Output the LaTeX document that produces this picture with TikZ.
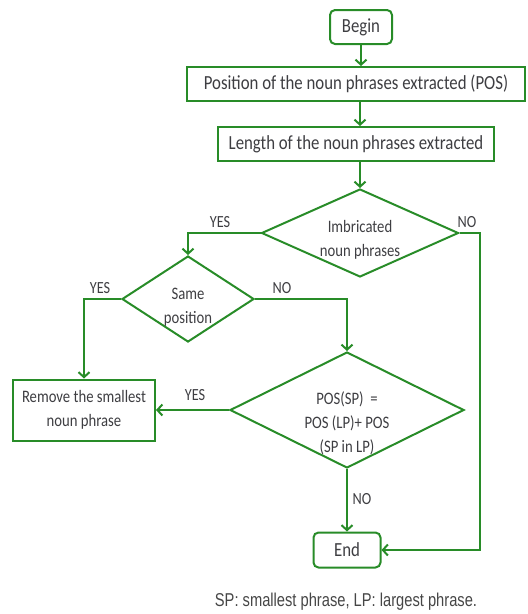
\documentclass[tikz,border=0pt]{standalone}
\usepackage{fontspec}
\setmainfont{Carlito}[FakeStretch=0.84]
\newfontfamily\capfont{Liberation Sans}[FakeStretch=0.79]
\usetikzlibrary{shapes.geometric,arrows.meta}
\definecolor{lgreen}{RGB}{40,140,40}
\definecolor{tgray}{RGB}{62,62,66}
\definecolor{cgray}{RGB}{70,70,70}
\begin{document}
\begin{tikzpicture}[x=1pt,y=-1pt,
  every node/.style={text=tgray},
  line/.style={draw=lgreen,line width=2pt},
  arr/.style={line,-{Straight Barb[length=5pt,width=11pt]}},
  boxbig/.style={draw=lgreen,line width=2pt,fill=white,inner sep=0pt,font=\fontsize{20}{24}\selectfont},
  rbox/.style={boxbig,rounded corners=5pt},
  dia/.style={draw=lgreen,line width=2pt,shape=diamond,inner sep=0pt},
  dtext/.style={align=center,font=\fontsize{17.5}{24}\selectfont},
  lab/.style={font=\fontsize{17}{20}\selectfont}
]
\useasboundingbox (0,0) rectangle (528,614);
\node[rbox,minimum width=62pt,minimum height=34pt] (begin) at (361,27) {Begin};
\node[boxbig,minimum width=338pt,minimum height=34pt] (pos) at (356,84) {Position of the noun phrases extracted (POS)};
\node[boxbig,minimum width=276pt,minimum height=34pt] (len) at (356,144) {Length of the noun phrases extracted};
\node[dia,minimum width=197pt,minimum height=88pt] (imb) at (360,233) {};
\node[dtext] (imbt) at (360,240) {Imbricated\\noun phrases};
\node[dia,minimum width=132pt,minimum height=86pt] (same) at (188,299) {};
\node[dtext] (samet) at (188,307) {Same\\position};
\node[boxbig,minimum width=142pt,minimum height=61pt,align=center,font=\fontsize{17.5}{24}\selectfont] (remove) at (84,410) {Remove the smallest\\noun phrase};
\node[dia,minimum width=234pt,minimum height=116pt] (posd) at (347,410) {};
\node[dtext] (posdt) at (347,423) {POS(SP)\ \ =\\POS (LP)+ POS\\(SP in LP)};
\node[rbox,minimum width=67pt,minimum height=35pt] (end) at (347,550) {End};
\coordinate (rt) at (480,550);
\node[font=\capfont\fontsize{18.6}{22}\selectfont,text=cgray] (cap) at (346,602) {SP: smallest phrase, LP: largest phrase.};

\draw[arr] (begin.south) -- (begin.south |- pos.north);
\draw[arr] (imb.north |- pos.south) -- (imb.north |- len.north);
\draw[arr] (imb.north |- len.south) -- (imb.north);
\draw[arr] (imb.west) -| (same.north);
\draw[arr] (imb.east) -| (rt) -- (end.east);
\draw[arr] (same.west) -| (remove.north);
\draw[arr] (same.east) -| (posd.north);
\draw[arr] (posd.west) -- (remove.east);
\draw[arr] (posd.south) -- (end.north);

\node[lab] (l1) at (220,222) {YES};
\node[lab] (l2) at (467,222) {NO};
\node[lab] (l3) at (100,288) {YES};
\node[lab] (l4) at (282,288) {NO};
\node[lab] (l5) at (195,395) {YES};
\node[lab] (l6) at (362,499) {NO};
\end{tikzpicture}
\end{document}
